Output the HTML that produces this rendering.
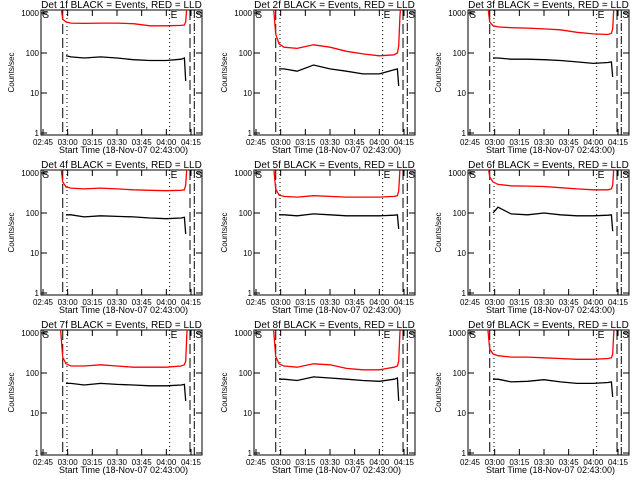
<!DOCTYPE html>
<html><head><meta charset="utf-8"><style>
html,body{margin:0;padding:0;background:#fff;}
svg{display:block;font-family:"Liberation Sans",sans-serif;}
</style></head><body>
<svg id="c" width="640" height="480" viewBox="0 0 640 480"></svg>
<script>
const titles=["Det 1f BLACK = Events, RED = LLD","Det 2f BLACK = Events, RED = LLD","Det 3f BLACK = Events, RED = LLD","Det 4f BLACK = Events, RED = LLD","Det 5f BLACK = Events, RED = LLD","Det 6f BLACK = Events, RED = LLD","Det 7f BLACK = Events, RED = LLD","Det 8f BLACK = Events, RED = LLD","Det 9f BLACK = Events, RED = LLD"];
const tickLabels=["02:45","03:00","03:15","03:30","03:45","04:00","04:15"];
const yTicks=[1,10,100,1000];
const times=[10,12,14,17,25,35,45,55,65,75,84,86,86.8,87.5,88.5];
const red=[
[3000,700,600,560,550,560,560,540,480,480,490,500,600,1500,3000],
[3000,300,170,140,130,160,140,110,95,85,90,100,150,800,3000],
[3000,600,480,450,430,420,400,380,330,300,290,310,400,1500,3000],
[3000,600,450,420,400,420,400,380,370,360,370,380,500,1500,3000],
[3000,400,280,260,250,270,260,250,250,250,260,270,350,1200,3000],
[3000,800,600,520,480,470,460,430,400,380,380,400,500,1500,3000],
[3000,250,170,150,150,160,150,140,140,140,150,160,200,1000,3000],
[3000,260,170,150,140,170,160,130,120,120,140,150,200,1000,3000],
[3000,400,300,270,250,250,240,230,220,220,230,240,300,1200,3000]];
const black=[
[null,null,85,80,75,80,75,68,65,65,70,75,20,null,null],
[null,null,40,40,35,50,40,35,30,30,38,40,15,null,null],
[null,null,75,75,70,70,68,65,60,55,58,60,25,null,null],
[null,null,90,90,80,85,82,80,75,72,75,78,30,null,null],
[null,null,90,90,85,95,90,85,85,85,88,90,40,null,null],
[null,null,100,140,95,90,100,90,85,85,88,90,35,null,null],
[null,null,55,55,50,55,52,50,48,48,50,52,20,null,null],
[null,null,70,70,65,80,75,70,65,62,70,75,20,null,null],
[null,null,70,70,60,62,68,60,55,55,58,60,25,null,null]];
const vlines=[[12,"10,4"],[14.6,"1,3"],[77,"1,3"],[89.4,"10,4"],[92,"8,2,1,2"]];
const NS="http://www.w3.org/2000/svg";
const svg=document.getElementById('c');
function mk(t,a,p){const e=document.createElementNS(NS,t);for(const k in a)e.setAttribute(k,a[k]);(p||svg).appendChild(e);return e;}
const cols=[0,213,427],rows=[0,160,320];
for(let i=0;i<9;i++){
 const ox=cols[i%3],oy=rows[Math.floor(i/3)];
 const L=ox+41,R=ox+202,T=oy+10,B=oy+135;
 const xs=t=>L+2+t*(148/90);
 const ys=v=>B-2-(Math.log10(v))*40;
 const g=mk('g',{});
 
 
 const cp=mk('clipPath',{id:'cp'+i},g);mk('rect',{x:L,y:T,width:R-L,height:B-T},cp);
 const tt=mk('text',{x:(L+R)/2,y:oy+8,'text-anchor':'middle','font-size':10},g);tt.textContent=titles[i];
 
 mk('rect',{x:L,y:T,width:R-L,height:B-T,fill:'none',stroke:'#000','stroke-width':1},g);
 yTicks.forEach(v=>{const y=ys(v);
  mk('line',{x1:L,x2:L+6,y1:y,y2:y,stroke:'#000'},g);mk('line',{x1:R-6,x2:R,y1:y,y2:y,stroke:'#000'},g);
  const tl=mk('text',{x:L-2,y:y+3,'text-anchor':'end','font-size':8},g);tl.textContent=v;
  
 });
 tickLabels.forEach((s,k)=>{const x=xs(k*15);
  mk('line',{x1:x,x2:x,y1:B,y2:B-6,stroke:'#000'},g);mk('line',{x1:x,x2:x,y1:T,y2:T+6,stroke:'#000'},g);
  const xl=mk('text',{x:x,y:B+10,'text-anchor':'middle','font-size':8},g);xl.textContent=s;
  
 });
 const xt=mk('text',{x:(L+R)/2+2,y:B+18,'text-anchor':'middle','font-size':9},g);xt.textContent="Start Time (18-Nov-07 02:43:00)";
 
 const yt=mk('text',{x:ox+14,y:(T+B)/2,'text-anchor':'middle','font-size':8,transform:`rotate(-90 ${ox+14} ${(T+B)/2})`},g);yt.textContent="Counts/sec";
 
 vlines.forEach(v=>{const x=xs(v[0]);const l=mk('line',{x1:x,x2:x,y1:T,y2:B,stroke:'#000','stroke-dasharray':v[1]},g);
  });
 [["S",-1],["E",77],["S",92]].forEach(m=>{const s=mk('text',{x:xs(m[1])+1,y:T+8,'font-size':10},g);s.textContent=m[0];
  });
 const rp=red[i].map((v,k)=>`${xs(times[k]).toFixed(1)},${ys(v).toFixed(1)}`).join(' ');
 const rl=mk('polyline',{points:rp,fill:'none',stroke:'#f00','stroke-width':1.3,'clip-path':`url(#cp${i})`},g);
 
 const bp=black[i].map((v,k)=>v==null?null:`${xs(times[k]).toFixed(1)},${ys(v).toFixed(1)}`).filter(Boolean).join(' ');
 const bl=mk('polyline',{points:bp,fill:'none',stroke:'#000','stroke-width':1.3,'clip-path':`url(#cp${i})`},g);
 
}
</script>
</body></html>
